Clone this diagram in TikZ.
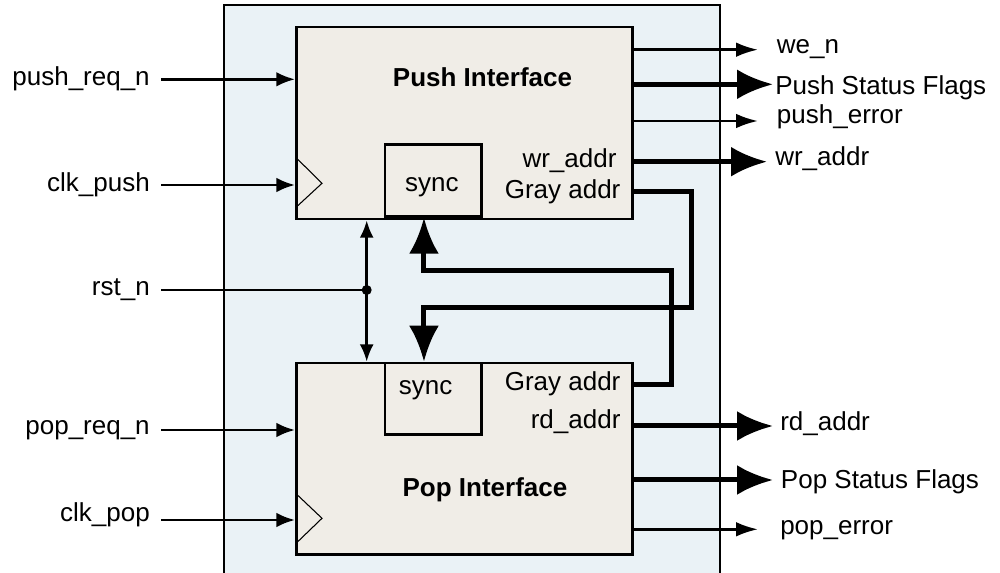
\documentclass[tikz,border=0pt]{standalone}
\usepackage{fontspec}
\setmainfont{Liberation Sans}
\usetikzlibrary{arrows.meta}
\definecolor{frameblue}{RGB}{234,242,246}
\definecolor{blockbeige}{RGB}{240,237,231}
\begin{document}
\begin{tikzpicture}[x=0.75pt,y=-0.75pt,
  font=\fontsize{19.5}{23}\selectfont,
  txt/.style={inner sep=0pt, text height=14pt, text depth=4.1pt},
  outerframe/.style={draw=black, line width=1.5pt, fill=frameblue, inner sep=0pt, anchor=north west},
  blk/.style={draw=black, line width=2pt, fill=blockbeige, inner sep=0pt},
  syncbox/.style={draw=black, line width=2pt, fill=blockbeige, inner sep=0pt, minimum width=72.2pt},
  sig/.style={line width=2pt, -{Latex[length=14pt,width=11pt]}},
  sigout/.style={line width=2pt, -{Latex[length=16.5pt,width=11pt]}},
  sigboth/.style={line width=2pt, -{Latex[length=13pt,width=10.5pt]}},
  bus/.style={line width=3.75pt, -{Latex[length=27pt,width=22.5pt]}},
  clk/.style={line width=0.8pt},
  dotnode/.style={circle, fill=black, inner sep=0pt, minimum size=7.5pt}
]
\clip (0,0) rectangle (1000,573);
\fill[white] (0,0) rectangle (1000,573);

% frame
\node[outerframe, minimum width=372pt, minimum height=450pt] (frame) at (223,4) {};

% blocks
\node[blk, anchor=north west, minimum width=252pt, minimum height=144pt] (push) at (295,25.7) {};
\node[blk, anchor=north west, minimum width=252pt, minimum height=143.7pt] (pop) at (295,361.7) {};
\node[syncbox, anchor=south west, minimum height=54pt] (spush) at (383.7,217.7) {};
\node[syncbox, anchor=north west, minimum height=53.7pt] (spop) at (383.7,361.7) {};

% clock triangles
\draw[clk] (296.7,158.3) -- (322,183.3) -- (296.7,206.7);
\draw[clk] (296.7,494.3) -- (322,518.3) -- (296.7,542.7);

% titles and inner labels
\node[font=\fontsize{19.5}{23}\selectfont\bfseries] (tpush) at (482.5,77) {Push Interface};
\node[font=\fontsize{19.5}{23}\selectfont\bfseries, anchor=base] (tpop) at (485,497) {Pop Interface};
\node[txt] (lsyncpush) at (431.8,185) {sync};
\node[txt] (lsyncpop) at (425.7,388.4) {sync};
\node[txt, anchor=east] (wrin) at (616.7,161) {wr\_addr};
\node[txt, anchor=east] (gapush) at (620.7,192) {Gray addr};
\node[txt, anchor=east] (gapop) at (620.7,384.4) {Gray addr};
\node[txt, anchor=east] (rdin) at (620.7,421.7) {rd\_addr};

% left labels
\node[txt, anchor=east] (pushreq) at (150,78.5) {push\_req\_n};
\node[txt, anchor=east] (clkpush) at (150,185) {clk\_push};
\node[txt, anchor=east] (rst) at (150,289) {rst\_n};
\node[txt, anchor=east] (popreq) at (150,428) {pop\_req\_n};
\node[txt, anchor=east] (clkpop) at (150,515) {clk\_pop};

% right labels
\node[txt, anchor=west] (wen) at (776.7,47.4) {we\_n};
\node[txt, anchor=west] (psf) at (775,87.5) {Push Status Flags};
\node[txt, anchor=west] (perr) at (776.7,116.7) {push\_error};
\node[txt, anchor=west] (wrout) at (775,158.5) {wr\_addr};
\node[txt, anchor=west] (rdout) at (780,423.8) {rd\_addr};
\node[txt, anchor=west] (popsf) at (780.7,481.7) {Pop Status Flags};
\node[txt, anchor=west] (poperr) at (780,528.4) {pop\_error};

% coordinates
\coordinate (in1) at (161,79.3);
\coordinate (in2) at (161,185);
\coordinate (in3) at (161,290);
\coordinate (in4) at (161,430);
\coordinate (in5) at (161,520);
\coordinate (tipwe) at (758,49.7);
\coordinate (tippsf) at (773,84.3);
\coordinate (tipperr) at (758,121);
\coordinate (tipwr) at (767,161.7);
\coordinate (tiprd) at (773,426);
\coordinate (tippopsf) at (773,480);
\coordinate (tippoperr) at (758,529.3);
\coordinate (j1) at (691.7,307.3);
\coordinate (j2) at (671.7,270.7);

% inputs
\draw[sig] (in1) -- (in1 -| push.west);
\draw[sig] (in2) -- (in2 -| push.west);
\draw[sig] (in4) -- (in4 -| pop.west);
\draw[sig] (in5) -- (in5 -| pop.west);
\node[dotnode] (dot) at (366.7,290) {};
\draw[line width=2pt] (in3) -- (dot.center);
\draw[sigboth] (dot.center) -- (dot.center |- push.south);
\draw[sigboth] (dot.center) -- (dot.center |- pop.north);

% outputs
\draw[sigout] (push.east |- tipwe) -- (tipwe);
\draw[bus] (push.east |- tippsf) -- (tippsf);
\draw[sigout] (push.east |- tipperr) -- (tipperr);
\draw[bus] (push.east |- tipwr) -- (tipwr);
\draw[bus] (pop.east |- tiprd) -- (tiprd);
\draw[bus] (pop.east |- tippopsf) -- (tippopsf);
\draw[sigout] (pop.east |- tippoperr) -- (tippoperr);

% Gray address buses
\draw[bus] (gapush.east -| push.east) -| (j1) -| ([xshift=-6.9pt]spop.north);
\draw[bus] (gapop.east -| pop.east) -| (j2) -| ([xshift=-6.9pt]spush.south);
\end{tikzpicture}
\end{document}
